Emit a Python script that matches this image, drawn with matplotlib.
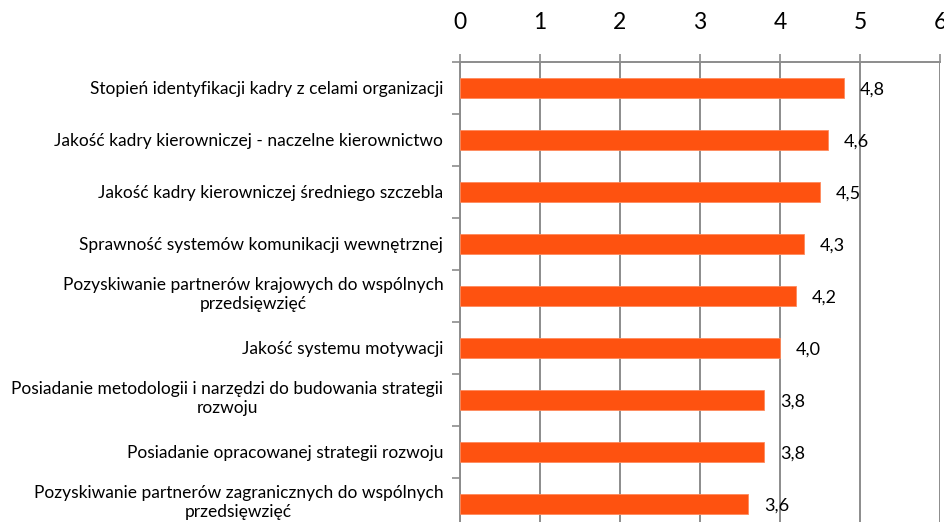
import matplotlib
matplotlib.use("Agg")
import matplotlib.pyplot as plt
import matplotlib.transforms as mtransforms
import numpy as np

categories = [
    "Stopień identyfikacji kadry z celami organizacji",
    "Jakość kadry kierowniczej - naczelne kierownictwo",
    "Jakość kadry kierowniczej średniego szczebla",
    "Sprawność systemów komunikacji wewnętrznej",
    "Pozyskiwanie partnerów krajowych do wspólnych\nprzedsięwzięć",
    "Jakość systemu motywacji",
    "Posiadanie metodologii i narzędzi do budowania strategii\nrozwoju",
    "Posiadanie opracowanej strategii rozwoju",
    "Pozyskiwanie partnerów zagranicznych do wspólnych\nprzedsięwzięć",
]
values = [4.8, 4.6, 4.5, 4.3, 4.2, 4.0, 3.8, 3.8, 3.6]
value_labels = ["4,8", "4,6", "4,5", "4,3", "4,2", "4,0", "3,8", "3,8", "3,6"]
xticks = [0, 1, 2, 3, 4, 5, 6]

plt.rcParams['font.family'] = ['Lato', 'DejaVu Sans']

W, H = 944, 522
fig = plt.figure(figsize=(W / 100, H / 100), dpi=100)
ax = fig.add_axes([460 / W, 1 - 530 / H, 480 / W, 468 / H])

y = np.arange(len(categories))
ax.barh(y, values, height=0.39, color="#FE5210", edgecolor="#FF8A5C", linewidth=0.6, zorder=3)

ax.set_xlim(0, 6)
ax.set_ylim(len(categories) - 0.5, -0.5)

ax.xaxis.tick_top()
ax.set_xticks(xticks)
ax.set_xticklabels([str(t) for t in xticks], fontsize=16.5)
ax.tick_params(axis='x', which='major', direction='out', length=6, width=1.2,
               color="#8C8C8C", pad=15)
ax.grid(axis='x', color="#8C8C8C", linewidth=1.4, zorder=1)

ax.set_yticks(y)
ax.set_yticklabels(categories, fontsize=12.5, multialignment='center', linespacing=1.2)
ax.set_yticks(np.arange(-0.5, len(categories), 1.0), minor=True)
ax.tick_params(axis='y', which='major', length=0, pad=12)
ax.tick_params(axis='y', which='minor', direction='out', length=6, width=1.2, color="#8C8C8C")

shift = mtransforms.ScaledTranslation(0, 4 / 100, fig.dpi_scale_trans)
for lbl in ax.get_yticklabels():
    if "\n" in lbl.get_text():
        lbl.set_transform(lbl.get_transform() + shift)

for s in ['right', 'bottom']:
    ax.spines[s].set_visible(False)
for s in ['top', 'left']:
    ax.spines[s].set_color("#8C8C8C")
    ax.spines[s].set_linewidth(1.4)

for yi, v, lab in zip(y, values, value_labels):
    ax.annotate(lab, xy=(v, yi), xytext=(11.5, -1.5), textcoords='offset points',
                va='center', ha='left', fontsize=13, color="#000000")

fig.savefig("out.png", dpi=100)
